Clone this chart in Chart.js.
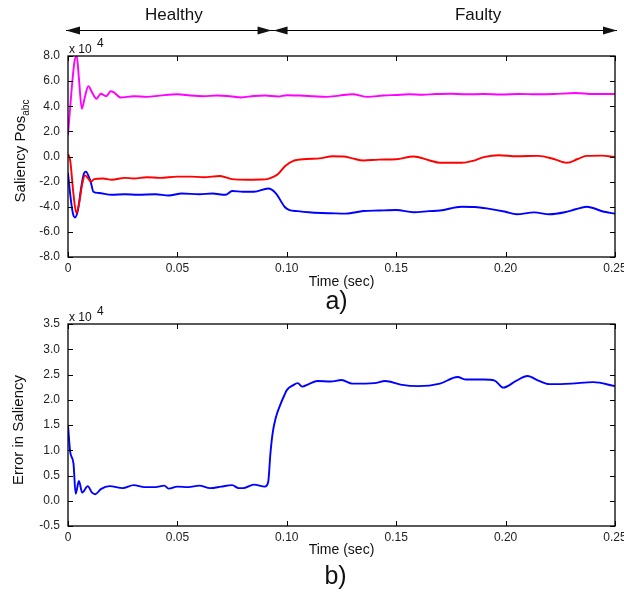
<!DOCTYPE html>
<html>
<head>
<meta charset="utf-8">
<script src="https://cdn.jsdelivr.net/npm/chart.js@4/dist/chart.umd.min.js"></script>
<style>
    html, body { margin: 0; padding: 0; background: #fff; }
    #wrap { position: relative; width: 624px; height: 592px; }
    .box { position: absolute; left: 0; width: 624px; }
</style>
</head>
<body>
<div id="wrap">
    <div class="box" style="top:0;height:320px"><canvas id="topChart" width="624" height="320"></canvas></div>
    <div class="box" style="top:300px;height:292px"><canvas id="bottomChart" width="624" height="292"></canvas></div>
</div>
<script>
// ------------------------------------------------------------------------
// Data (saliency values in units of 10^4, time in seconds)
// ------------------------------------------------------------------------
const phaseA_t = [0, 0.0015, 0.003, 0.004, 0.005, 0.0063, 0.0078, 0.0093, 0.011, 0.013, 0.015, 0.0175, 0.0195, 0.021, 0.024,
    0.03, 0.036, 0.042, 0.05, 0.056, 0.062, 0.068, 0.074, 0.079, 0.085, 0.09, 0.096, 0.1, 0.106, 0.112, 0.118, 0.124,
    0.13, 0.137, 0.144, 0.15, 0.156, 0.162, 0.168, 0.175, 0.182, 0.19, 0.198, 0.206, 0.214, 0.222, 0.232, 0.24, 0.25];
const phaseA_v = [1.7, 5.0, 7.6, 8.0, 6.2, 3.8, 4.8, 5.6, 5.1, 4.6, 5.0, 4.8, 5.2, 5.1, 4.7,
    4.8, 4.75, 4.85, 4.95, 4.85, 4.8, 4.85, 4.8, 4.7, 4.82, 4.85, 4.78, 4.88, 4.85, 4.8, 4.75, 4.85,
    4.95, 4.75, 4.85, 4.9, 4.95, 4.92, 4.97, 5.0, 4.95, 4.97, 4.93, 4.98, 4.95, 4.97, 5.05, 4.97, 4.97];

const phaseB_t = [0, 0.001, 0.0025, 0.0038, 0.005, 0.0065, 0.0078, 0.009, 0.0105, 0.012, 0.016, 0.02, 0.026, 0.03,
    0.036, 0.042, 0.05, 0.056, 0.062, 0.0695, 0.075, 0.082, 0.088, 0.091, 0.094, 0.096, 0.0993, 0.103, 0.109, 0.115,
    0.121, 0.126, 0.13, 0.135, 0.142, 0.15, 0.158, 0.165, 0.17, 0.18, 0.185, 0.19, 0.197, 0.205, 0.215, 0.222,
    0.228, 0.233, 0.237, 0.244, 0.25];
const phaseB_v = [0.2, -0.3, -3.0, -4.5, -3.8, -2.2, -1.5, -1.7, -2.0, -1.8, -1.75, -1.85, -1.7, -1.75,
    -1.65, -1.7, -1.6, -1.6, -1.65, -1.55, -1.8, -1.85, -1.83, -1.8, -1.6, -1.4, -0.75, -0.35, -0.2, -0.15,
    0.02, 0.0, -0.15, -0.32, -0.25, -0.22, 0.0, -0.3, -0.5, -0.5, -0.35, -0.05, 0.1, 0.02, 0.05, -0.2,
    -0.5, -0.2, 0.05, 0.07, -0.05];

const phaseC_t = [0, 0.001, 0.0022, 0.0032, 0.0045, 0.006, 0.0072, 0.0082, 0.0095, 0.0105, 0.0116, 0.014, 0.02,
    0.026, 0.032, 0.04, 0.046, 0.052, 0.06, 0.066, 0.072, 0.075, 0.08, 0.085, 0.0915, 0.095, 0.099, 0.101, 0.105,
    0.11, 0.116, 0.12, 0.127, 0.135, 0.142, 0.15, 0.158, 0.165, 0.17, 0.18, 0.186, 0.192, 0.2, 0.205, 0.213,
    0.22, 0.227, 0.232, 0.237, 0.245, 0.25];
const phaseC_v = [-1.3, -3.0, -4.5, -4.85, -4.3, -2.5, -1.4, -1.2, -1.6, -2.1, -2.8, -2.9, -3.05,
    -3.0, -3.05, -3.0, -3.1, -2.95, -3.0, -2.95, -3.05, -2.75, -2.8, -2.8, -2.55, -2.93, -4.0, -4.25, -4.35,
    -4.44, -4.5, -4.52, -4.55, -4.34, -4.3, -4.26, -4.44, -4.35, -4.3, -4.0, -4.02, -4.15, -4.4, -4.6, -4.45,
    -4.6, -4.44, -4.2, -4.0, -4.4, -4.55];

const error_t = [0, 0.001, 0.0025, 0.0035, 0.005, 0.0065, 0.009, 0.011, 0.0125, 0.015, 0.019, 0.025, 0.03, 0.035,
    0.04, 0.044, 0.046, 0.05, 0.055, 0.06, 0.065, 0.07, 0.075, 0.078, 0.08, 0.085, 0.09, 0.0915, 0.0925, 0.0935,
    0.095, 0.097, 0.099, 0.1, 0.103, 0.105, 0.107, 0.11, 0.114, 0.12, 0.125, 0.13, 0.14, 0.145, 0.152, 0.16,
    0.17, 0.178, 0.182, 0.19, 0.195, 0.199, 0.205, 0.21, 0.215, 0.22, 0.23, 0.24, 0.25];
const error_v = [1.5, 0.97, 0.74, 0.14, 0.39, 0.16, 0.29, 0.16, 0.13, 0.23, 0.29, 0.25, 0.31, 0.27,
    0.27, 0.3, 0.24, 0.28, 0.27, 0.3, 0.25, 0.28, 0.31, 0.25, 0.25, 0.32, 0.28, 0.37, 0.93, 1.33,
    1.65, 1.9, 2.1, 2.19, 2.29, 2.33, 2.26, 2.31, 2.37, 2.36, 2.39, 2.32, 2.33, 2.37, 2.3, 2.27,
    2.32, 2.45, 2.4, 2.4, 2.38, 2.24, 2.38, 2.47, 2.38, 2.31, 2.32, 2.35, 2.27];

// Phase annotation: fault instant and label anchors (seconds)
const faultTime = 0.0935;
const healthyLabelTime = 0.0484;
const faultyLabelTime = 0.1874;

const FONT = "'Liberation Sans', Arial, Helvetica, sans-serif";
Chart.defaults.font.family = FONT;
Chart.defaults.color = '#222';

function toPoints(ts, vs) {
    return ts.map((t, i) => ({ x: t, y: vs[i] }));
}

function lineSet(label, ts, vs, color) {
    return {
        label,
        data: toPoints(ts, vs),
        borderColor: color,
        backgroundColor: color,
        borderWidth: 1.9,
        pointRadius: 0,
        cubicInterpolationMode: 'monotone',
        fill: false
    };
}

// ------------------------------------------------------------------------
// Shared helpers: MATLAB-style boxed axes with inward ticks
// ------------------------------------------------------------------------
const boxPlugin = {
    id: 'matlabBox',
    afterDatasetsDraw(chart) {
        const { ctx, chartArea: a, scales } = chart;
        const tl = 5;
        ctx.save();
        ctx.strokeStyle = '#000';
        ctx.lineWidth = 1;
        ctx.beginPath();
        scales.x.ticks.forEach(tk => {
            const px = Math.round(scales.x.getPixelForValue(tk.value)) + 0.5;
            ctx.moveTo(px, a.bottom); ctx.lineTo(px, a.bottom - tl);
            ctx.moveTo(px, a.top); ctx.lineTo(px, a.top + tl);
        });
        scales.y.ticks.forEach(tk => {
            const py = Math.round(scales.y.getPixelForValue(tk.value)) + 0.5;
            ctx.moveTo(a.left, py); ctx.lineTo(a.left + tl, py);
            ctx.moveTo(a.right, py); ctx.lineTo(a.right - tl, py);
        });
        ctx.stroke();
        ctx.lineWidth = 1.3;
        ctx.strokeRect(a.left, a.top, a.right - a.left, a.bottom - a.top);
        ctx.restore();
    }
};

function drawText(ctx, text, x, y, size, align) {
    ctx.font = `${size}px ${FONT}`;
    ctx.textAlign = align || 'center';
    ctx.textBaseline = 'middle';
    ctx.fillText(text, x, y);
}

function drawExponent(ctx, a, yBase) {
    ctx.fillStyle = '#111';
    ctx.font = `12px ${FONT}`;
    ctx.textAlign = 'left';
    ctx.textBaseline = 'alphabetic';
    ctx.fillText('x 10', a.left + 1, yBase);
    ctx.fillText('4', a.left + 29, yBase - 6);
}

function rotatedTitle(ctx, cx, cy, main, sub) {
    ctx.save();
    ctx.translate(cx, cy);
    ctx.rotate(-Math.PI / 2);
    ctx.fillStyle = '#111';
    ctx.textBaseline = 'middle';
    ctx.textAlign = 'left';
    ctx.font = `15px ${FONT}`;
    const w1 = ctx.measureText(main).width;
    let w2 = 0;
    if (sub) {
        ctx.font = `10px ${FONT}`;
        w2 = ctx.measureText(sub).width;
    }
    const x0 = -(w1 + w2) / 2;
    ctx.font = `15px ${FONT}`;
    ctx.fillText(main, x0, 0);
    if (sub) {
        ctx.font = `10px ${FONT}`;
        ctx.fillText(sub, x0 + w1, 5);
    }
    ctx.restore();
}

function arrowHead(ctx, tipX, y, dir) {
    const len = 14, half = 4;
    ctx.beginPath();
    ctx.moveTo(tipX, y);
    ctx.lineTo(tipX - dir * len, y - half);
    ctx.lineTo(tipX - dir * len, y + half);
    ctx.closePath();
    ctx.fill();
}

// ------------------------------------------------------------------------
// Annotation plugins
// ------------------------------------------------------------------------
const topAnnot = {
    id: 'topAnnot',
    afterDraw(chart) {
        const { ctx, chartArea: a, scales } = chart;
        const xs = scales.x;
        ctx.save();
        ctx.fillStyle = '#111';
        ctx.strokeStyle = '#000';

        // phase arrows
        const ay = 30.5;
        const left = a.left - 2;
        const fx = xs.getPixelForValue(faultTime);
        const right = a.right + 2;
        ctx.lineWidth = 1.2;
        ctx.beginPath();
        ctx.moveTo(left, ay); ctx.lineTo(right, ay);
        ctx.stroke();
        arrowHead(ctx, left, ay, -1);
        arrowHead(ctx, fx - 1, ay, 1);
        arrowHead(ctx, fx + 1, ay, -1);
        arrowHead(ctx, right, ay, 1);

        drawText(ctx, 'Healthy', xs.getPixelForValue(healthyLabelTime), 15, 17);
        drawText(ctx, 'Faulty', xs.getPixelForValue(faultyLabelTime), 15, 17);

        drawExponent(ctx, a, 52.5);
        rotatedTitle(ctx, 21, 151, 'Saliency Pos', 'abc');

        ctx.fillStyle = '#111';
        drawText(ctx, 'Time (sec)', (a.left + a.right) / 2, 282, 14);
        drawText(ctx, 'a)', (a.left + a.right) / 2 - 5, 302, 25);
        ctx.restore();
    }
};

const bottomAnnot = {
    id: 'bottomAnnot',
    afterDraw(chart) {
        const { ctx, chartArea: a } = chart;
        ctx.save();
        drawExponent(ctx, a, 21);
        rotatedTitle(ctx, 18.5, 130, 'Error in Saliency');
        ctx.fillStyle = '#111';
        drawText(ctx, 'Time (sec)', (a.left + a.right) / 2, 250, 14);
        drawText(ctx, 'b)', (a.left + a.right) / 2 - 6, 277, 25);
        ctx.restore();
    }
};

// ------------------------------------------------------------------------
// Chart builder
// ------------------------------------------------------------------------
function makeChart(canvasId, datasets, yMin, yMax, yStep, padTop, xHeight, annot) {
    return new Chart(document.getElementById(canvasId), {
        type: 'line',
        data: { datasets },
        options: {
            responsive: false,
            animation: false,
            layout: { padding: { top: padTop, right: 9, left: 0, bottom: 0 } },
            plugins: {
                legend: { display: false },
                tooltip: { enabled: false }
            },
            scales: {
                x: {
                    type: 'linear',
                    min: 0,
                    max: 0.25,
                    grid: { display: false, drawTicks: false },
                    border: { display: false },
                    ticks: {
                        stepSize: 0.05,
                        autoSkip: false,
                        maxRotation: 0,
                        padding: 4,
                        font: { size: 12 },
                        callback: v => (Math.abs(v) < 1e-9 ? '0' : v.toFixed(2))
                    },
                    afterFit(scale) {
                        scale.height = xHeight;
                        scale.paddingLeft = 0;
                        scale.paddingRight = 0;
                    }
                },
                y: {
                    min: yMin,
                    max: yMax,
                    grid: { display: false, drawTicks: false },
                    border: { display: false },
                    ticks: {
                        stepSize: yStep,
                        autoSkip: false,
                        padding: 8,
                        font: { size: 12 },
                        callback: v => v.toFixed(1)
                    },
                    afterFit(scale) {
                        scale.width = 68;
                        scale.paddingTop = 0;
                        scale.paddingBottom = 0;
                    }
                }
            }
        },
        plugins: [boxPlugin, annot]
    });
}

makeChart('topChart', [
    lineSet('Phase a', phaseA_t, phaseA_v, '#ff00ff'),
    lineSet('Phase b', phaseB_t, phaseB_v, '#ff0000'),
    lineSet('Phase c', phaseC_t, phaseC_v, '#0000ff')
], -8, 8, 2, 56, 63, topAnnot);

makeChart('bottomChart', [
    lineSet('Error', error_t, error_v, '#0000ff')
], -0.5, 3.5, 0.5, 24, 66, bottomAnnot);
</script>
</body>
</html>
